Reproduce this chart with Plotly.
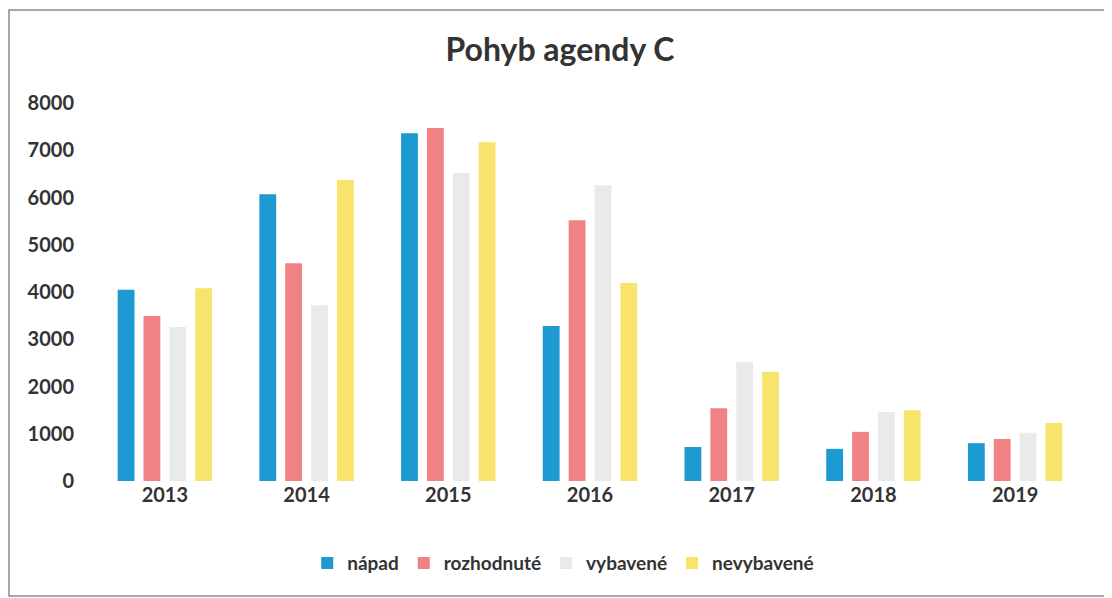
import plotly.graph_objects as go

years = ["2013", "2014", "2015", "2016", "2017", "2018", "2019"]
napad = [4050, 6070, 7360, 3280, 720, 680, 800]
rozhodnute = [3490, 4610, 7470, 5520, 1540, 1040, 890]
vybavene = [3260, 3720, 6520, 6260, 2520, 1460, 1020]
nevybavene = [4080, 6370, 7170, 4190, 2310, 1500, 1230]
series_names = ["nápad", "rozhodnuté", "vybavené", "nevybavené"]
colors = ["#1d9ad2", "#f08284", "#e9ebea", "#f8e46c"]

fig = go.Figure()
for name, vals, c in zip(series_names, [napad, rozhodnute, vybavene, nevybavene], colors):
    fig.add_trace(go.Bar(name="<b>" + name + "</b>", x=years, y=vals,
                         marker=dict(color=c, line=dict(width=0))))

# page has an 8px body margin, so the figure is 1104x590 placed at (8, 8)
W, H = 1104, 590
L, R, T, B = 86, 26, 95, 117
pw, ph = W - L - R, H - T - B

fig.update_layout(
    width=W, height=H,
    margin=dict(l=L, r=R, t=T, b=B),
    paper_bgcolor="white", plot_bgcolor="white",
    barmode="group", bargap=0.27, bargroupgap=0.35,
    font=dict(family="Lato", color="#333333"),
    title=dict(text="<b>Pohyb agendy C</b>", x=0.5, xanchor="center", y=1 - 42 / H, yanchor="middle",
               font=dict(size=32, color="#333333", family="Lato")),
    legend=dict(orientation="h", x=0.473, xanchor="center", y=-0.217, yanchor="middle",
                font=dict(size=19, color="#333333"), itemwidth=30, traceorder="normal",
                bgcolor="rgba(0,0,0,0)"),
    xaxis=dict(showgrid=False, showline=False, ticks="", tickfont=dict(size=20, color="#333333"),
               ticklabelstandoff=0, tickprefix="<b>", ticksuffix="</b>"),
    yaxis=dict(range=[0, 8000], dtick=1000, showgrid=False, showline=False, zeroline=False,
               ticks="", tickfont=dict(size=20, color="#333333"), tickformat="d",
               ticklabelstandoff=19, tickprefix="<b>", ticksuffix="</b>"),
)

def px_to_paper_x(fx):
    return (fx - L) / pw

def px_to_paper_y(fy):
    return (T + ph - fy) / ph

fig.add_shape(type="rect", xref="paper", yref="paper",
              x0=px_to_paper_x(1), x1=px_to_paper_x(1100),
              y0=px_to_paper_y(588), y1=px_to_paper_y(2),
              line=dict(color="#8a8a8a", width=1.5), fillcolor="rgba(0,0,0,0)", layer="below")

fig.write_html("out.html")
